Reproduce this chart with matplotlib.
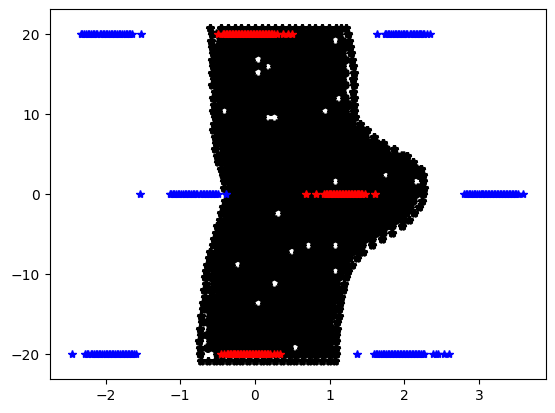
import matplotlib
matplotlib.use("Agg")
import matplotlib.pyplot as plt

# black cloud, one list of x values per row
black_y = [20.8, 20, 19.2, 18.4, 17.6, 16.8, 16, 15.2, 14.4, 13.6, 12.8, 12, 11.2, 10.4, 9.6, 8.8, 8, 7.2, 6.4, 5.6, 4.8, 4, 3.2, 2.4, 1.6, 0.8, 0,
           -0.8, -1.6, -2.4, -3.2, -4, -4.8, -5.6, -6.4, -7.2, -8, -8.8, -9.6, -10.4, -11.2, -12, -12.8, -13.6, -14.4, -15.2, -16, -16.8, -17.6, -18.4, -19.2, -20, -20.8]
black_x = [
    [-.60,-.46,-.36,-.27,-.18,-.09,0,.09,.18,.27,.36,.45,.54,.63,.72,.81,.90,.99,1.08,1.15,1.22],
    [-.58,-.50,-.41,-.32,-.23,-.14,-.05,.04,.13,.22,.31,.40,.49,.58,.67,.76,.85,.94,1.03,1.12,1.25],
    [-.59,-.45,-.36,-.27,-.18,-.09,0,.09,.18,.27,.36,.45,.54,.63,.72,.81,.90,.99,1.17,1.26],
    [-.57,-.50,-.41,-.32,-.23,-.14,-.05,.04,.13,.22,.31,.40,.49,.58,.67,.76,.85,.94,1.03,1.12,1.21,1.27],
    [-.56,-.45,-.36,-.27,-.18,-.09,0,.09,.18,.27,.36,.45,.54,.63,.72,.81,.90,.99,1.08,1.17,1.29],
    [-.58,-.50,-.41,-.32,-.23,-.14,-.05,.13,.22,.31,.40,.49,.58,.67,.76,.85,.94,1.03,1.12,1.21,1.30],
    [-.56,-.45,-.36,-.27,-.18,-.09,0,.09,.27,.36,.45,.54,.63,.72,.81,.90,.99,1.08,1.17,1.31],
    [-.57,-.50,-.41,-.32,-.23,-.14,-.05,.13,.22,.31,.40,.49,.58,.67,.76,.85,.94,1.03,1.12,1.21,1.32],
    [-.55,-.45,-.36,-.27,-.18,-.09,0,.09,.18,.27,.36,.45,.54,.63,.72,.81,.90,.99,1.08,1.17,1.31],
    [-.57,-.50,-.41,-.32,-.23,-.14,-.05,.04,.13,.22,.31,.40,.49,.58,.67,.76,.85,.94,1.03,1.12,1.21,1.33],
    [-.54,-.45,-.36,-.27,-.18,-.09,0,.09,.18,.27,.36,.45,.54,.63,.72,.81,.90,.99,1.08,1.17,1.31],
    [-.56,-.50,-.41,-.32,-.23,-.14,-.05,.04,.13,.22,.31,.40,.49,.58,.67,.76,.85,.94,1.03,1.21,1.33],
    [-.55,-.45,-.36,-.27,-.18,-.09,0,.09,.18,.27,.36,.45,.54,.63,.72,.81,.90,.99,1.08,1.17,1.26,1.32],
    [-.56,-.50,-.32,-.23,-.14,-.05,.04,.13,.22,.31,.40,.49,.58,.67,.76,.85,1.03,1.12,1.21,1.33],
    [-.54,-.45,-.36,-.27,-.18,-.09,0,.09,.36,.45,.54,.63,.72,.81,.90,.99,1.08,1.17,1.26,1.34],
    [-.55,-.50,-.41,-.32,-.23,-.14,-.05,.04,.13,.22,.31,.40,.49,.58,.67,.76,.85,.94,1.03,1.12,1.21,1.30,1.41],
    [-.56,-.45,-.36,-.27,-.18,-.09,0,.09,.18,.27,.36,.45,.54,.63,.72,.81,.90,.99,1.08,1.17,1.26,1.35,1.44,1.50],
    [-.54,-.50,-.41,-.32,-.23,-.14,-.05,.04,.13,.22,.31,.40,.49,.58,.67,.76,.85,.94,1.03,1.12,1.21,1.30,1.39,1.48,1.60],
    [-.52,-.45,-.36,-.27,-.18,-.09,0,.09,.18,.27,.36,.45,.54,.63,.72,.81,.90,.99,1.08,1.17,1.26,1.35,1.44,1.53,1.62,1.72],
    [-.53,-.41,-.32,-.23,-.14,-.05,.04,.13,.22,.31,.40,.49,.58,.67,.76,.85,.94,1.03,1.12,1.21,1.30,1.39,1.48,1.57,1.66,1.75,1.86],
    [-.51,-.45,-.36,-.27,-.18,-.09,0,.09,.18,.27,.36,.45,.54,.63,.72,.81,.90,.99,1.08,1.17,1.26,1.35,1.44,1.53,1.62,1.71,1.80,1.89,1.98,2.03],
    [-.49,-.41,-.32,-.23,-.14,-.05,.04,.13,.22,.31,.40,.49,.58,.67,.76,.85,.94,1.03,1.12,1.21,1.30,1.39,1.48,1.57,1.66,1.75,1.84,1.93,2.02,2.12],
    [-.46,-.36,-.27,-.18,-.09,0,.09,.18,.27,.36,.45,.54,.63,.72,.81,.90,.99,1.08,1.17,1.26,1.35,1.44,1.53,1.62,1.71,1.80,1.89,1.98,2.07,2.16,2.22],
    [-.43,-.41,-.32,-.23,-.14,-.05,.04,.13,.22,.31,.40,.49,.58,.67,.76,.85,.94,1.03,1.12,1.21,1.30,1.39,1.48,1.57,1.66,1.84,1.93,2.02,2.11,2.20,2.25],
    [-.42,-.36,-.27,-.18,-.09,0,.09,.18,.27,.36,.45,.54,.63,.72,.81,.90,.99,1.17,1.26,1.35,1.44,1.53,1.62,1.71,1.80,1.89,1.98,2.07,2.25],
    [-.41,-.32,-.23,-.14,-.05,.04,.13,.22,.31,.40,.49,.58,.67,.76,.85,.94,1.03,1.12,1.21,1.30,1.39,1.48,1.57,1.66,1.75,1.84,1.93,2.02,2.11,2.20,2.26],
    [-.38,-.27,-.18,-.09,0,.09,.18,.27,.36,.45,.54,.63,.72,.81,.90,.99,1.08,1.17,1.26,1.35,1.44,1.53,1.62,1.71,1.80,1.89,1.98,2.07,2.16,2.25],
    [-.40,-.32,-.23,-.14,-.05,.04,.13,.22,.31,.40,.49,.58,.67,.76,.85,.94,1.03,1.12,1.21,1.30,1.39,1.48,1.57,1.66,1.75,1.84,1.93,2.02,2.11,2.24],
    [-.43,-.36,-.27,-.18,-.09,0,.09,.18,.27,.36,.45,.54,.63,.72,.81,.90,.99,1.08,1.17,1.26,1.35,1.44,1.53,1.62,1.71,1.80,1.89,1.98,2.07,2.19],
    [-.46,-.41,-.32,-.23,-.14,-.05,.04,.13,.22,.40,.49,.58,.67,.76,.85,.94,1.03,1.12,1.21,1.30,1.39,1.48,1.57,1.66,1.75,1.84,1.93,2.02,2.13],
    [-.47,-.36,-.27,-.18,-.09,0,.09,.18,.27,.36,.45,.54,.63,.72,.81,.90,.99,1.08,1.17,1.26,1.35,1.44,1.53,1.62,1.71,1.80,1.89,1.98,2.06],
    [-.51,-.41,-.32,-.23,-.14,-.05,.04,.13,.22,.31,.40,.49,.58,.67,.76,.85,.94,1.03,1.12,1.21,1.30,1.39,1.48,1.57,1.66,1.75,1.84,1.97],
    [-.52,-.45,-.36,-.27,-.18,-.09,0,.09,.18,.27,.36,.45,.54,.63,.72,.81,.90,.99,1.08,1.17,1.26,1.35,1.44,1.53,1.62,1.71,1.84],
    [-.55,-.50,-.41,-.32,-.23,-.14,-.05,.04,.13,.22,.31,.40,.49,.58,.67,.76,.85,.94,1.03,1.12,1.21,1.30,1.39,1.48,1.57,1.70],
    [-.56,-.45,-.36,-.27,-.18,-.09,0,.09,.18,.27,.36,.45,.54,.63,.81,.90,.99,1.17,1.26,1.35,1.44,1.57],
    [-.60,-.50,-.41,-.32,-.23,-.14,-.05,.04,.13,.22,.31,.40,.58,.67,.76,.85,.94,1.03,1.12,1.21,1.30,1.39,1.45],
    [-.62,-.54,-.45,-.36,-.27,-.18,-.09,0,.09,.18,.27,.36,.45,.54,.63,.72,.81,.90,.99,1.08,1.17,1.26,1.37],
    [-.64,-.59,-.50,-.41,-.32,-.14,-.05,.04,.13,.22,.31,.40,.49,.58,.67,.76,.85,.94,1.03,1.12,1.21,1.30],
    [-.65,-.54,-.45,-.36,-.27,-.18,-.09,0,.09,.18,.27,.36,.45,.54,.63,.72,.81,.90,.99,1.17,1.25],
    [-.67,-.59,-.50,-.41,-.32,-.23,-.14,-.05,.04,.13,.22,.31,.40,.49,.58,.67,.76,.85,.94,1.03,1.12,1.22],
    [-.66,-.54,-.45,-.36,-.27,-.18,-.09,0,.09,.18,.36,.45,.54,.63,.72,.81,.90,.99,1.08,1.19],
    [-.68,-.59,-.50,-.41,-.32,-.23,-.14,-.05,.04,.13,.22,.31,.40,.49,.58,.67,.76,.85,.94,1.03,1.12,1.18],
    [-.67,-.56,-.45,-.36,-.27,-.18,-.09,0,.09,.18,.27,.36,.45,.54,.63,.72,.81,.90,.99,1.08,1.15],
    [-.70,-.59,-.50,-.41,-.32,-.23,-.14,-.05,.13,.22,.31,.40,.49,.58,.67,.76,.85,.94,1.03,1.14],
    [-.69,-.63,-.54,-.45,-.36,-.27,-.18,-.09,0,.09,.18,.27,.36,.45,.54,.63,.72,.81,.90,.99,1.08,1.12],
    [-.72,-.59,-.50,-.41,-.32,-.23,-.14,-.05,.04,.13,.22,.31,.40,.49,.58,.67,.76,.85,.94,1.03,1.12],
    [-.71,-.63,-.54,-.45,-.36,-.27,-.18,-.09,0,.09,.18,.27,.36,.45,.54,.63,.72,.81,.90,.99,1.10],
    [-.73,-.59,-.50,-.41,-.32,-.23,-.14,-.05,.04,.13,.22,.31,.40,.49,.58,.67,.76,.85,.94,1.03,1.10],
    [-.72,-.63,-.54,-.45,-.36,-.27,-.18,-.09,0,.09,.18,.27,.36,.45,.54,.63,.72,.81,.90,.99,1.09],
    [-.75,-.59,-.50,-.41,-.32,-.23,-.14,-.05,.04,.13,.22,.31,.40,.49,.58,.67,.76,.85,.94,1.03,1.09],
    [-.73,-.63,-.54,-.45,-.36,-.27,-.18,-.09,0,.09,.18,.27,.36,.45,.63,.72,.81,.90,.99,1.08],
    [-.74,-.50,-.41,-.32,-.23,-.14,-.05,.04,.13,.22,.31,.40,.49,.58,.67,.76,.85,.94,1.03,1.08],
    [-.72,-.63,-.54,-.45,-.36,-.27,-.18,-.09,0,.09,.18,.27,.36,.45,.54,.63,.72,.81,.90,.99,1.07],
]

# blue stars
blue_top_x = [-2.33,-2.31,-2.29,-2.26,-2.24,-2.22,-2.19,-2.17,-2.15,-2.13,-2.11,-2.08,-2.06,-2.04,-2.02,-2.0,-1.98,-1.96,-1.93,-1.91,-1.89,-1.87,
              -1.85,-1.82,-1.8,-1.78,-1.75,-1.73,-1.71,-1.69,-1.67,-1.64,-1.53,
              1.64,1.74,1.76,1.78,1.8,1.82,1.85,1.87,1.89,1.91,1.93,1.96,1.98,2.0,2.02,2.04,2.07,2.09,2.11,2.13,2.15,2.17,2.19,2.21,2.23,2.25,2.27,2.30,2.35]
blue_mid_x = [-1.54,-1.14,-1.12,-1.10,-1.08,-1.05,-1.03,-1.01,-0.99,-0.96,-0.94,-0.92,-0.9,-0.88,-0.85,-0.83,-0.81,-0.79,-0.77,-0.74,-0.72,-0.70,
              -0.68,-0.66,-0.64,-0.62,-0.6,-0.58,-0.56,-0.54,-0.52,-0.50,-0.39,
              2.80,2.82,2.84,2.86,2.88,2.91,2.93,2.95,2.97,3.0,3.02,3.04,3.06,3.08,3.1,3.12,3.14,3.16,3.18,3.2,3.22,3.24,3.26,3.28,3.3,3.32,3.34,3.36,3.38,
              3.4,3.42,3.44,3.46,3.48,3.5,3.52,3.59]
blue_bot_x = [-2.45,-2.27,-2.25,-2.23,-2.2,-2.18,-2.16,-2.13,-2.11,-2.09,-2.07,-2.05,-2.02,-2.0,-1.98,-1.96,-1.94,-1.92,-1.9,-1.87,-1.85,-1.83,
              -1.8,-1.78,-1.76,-1.74,-1.72,-1.7,-1.68,-1.66,-1.64,-1.62,-1.59,
              1.37,1.60,1.62,1.64,1.66,1.69,1.71,1.73,1.75,1.78,1.8,1.82,1.84,1.86,1.88,1.9,1.92,1.94,1.96,1.98,2.0,2.02,2.04,2.06,2.08,2.1,2.12,2.14,2.16,
              2.18,2.2,2.22,2.25,2.27,2.38,2.42,2.45,2.53,2.60]

# red stars
red_top_x = [-0.50,-0.43,-0.41,-0.39,-0.37,-0.35,-0.33,-0.31,-0.29,-0.27,-0.25,-0.23,-0.21,-0.19,-0.17,-0.15,-0.13,-0.11,-0.09,-0.07,-0.05,-0.03,
             -0.01,0.01,0.03,0.05,0.07,0.09,0.11,0.13,0.15,0.17,0.19,0.21,0.23,0.25,0.3,0.37,0.44,0.49]
red_mid_x = [0.69,0.82,0.93,0.95,0.97,0.99,1.0,1.02,1.04,1.06,1.08,1.1,1.12,1.14,1.16,1.18,1.2,1.22,1.24,1.26,1.28,1.3,1.32,1.34,1.36,1.38,1.4,
             1.42,1.44,1.47,1.61]
red_bot_x = [-0.46,-0.42,-0.38,-0.36,-0.34,-0.32,-0.3,-0.28,-0.26,-0.24,-0.22,-0.2,-0.18,-0.16,-0.14,-0.12,-0.1,-0.08,-0.06,-0.04,-0.02,0,0.02,
             0.04,0.06,0.08,0.1,0.12,0.14,0.16,0.18,0.2,0.25,0.29,0.33]

fig = plt.figure(figsize=(5.55, 4.13), dpi=100)
ax = fig.add_axes([49.5 / 555, 1 - 379 / 413, 496 / 555, 369.6 / 413])

# inner stars get a heavier edge so the cloud closes up, outer ones stay spiky
last_row = len(black_y) - 1
for i, (row_y, row_x) in enumerate(zip(black_y, black_x)):
    if i == 0 or i == last_row:
        ax.plot(row_x, [row_y] * len(row_x), "k*", markeredgewidth=2)
    else:
        ax.plot(row_x[1:-1], [row_y] * (len(row_x) - 2), "k*", markeredgewidth=3.2)
        ax.plot([row_x[0], row_x[-1]], [row_y, row_y], "k*", markeredgewidth=2.2)

ax.plot(blue_top_x, [20] * len(blue_top_x), "b*")
ax.plot(blue_mid_x, [0] * len(blue_mid_x), "b*")
ax.plot(blue_bot_x, [-20] * len(blue_bot_x), "b*")
ax.plot(red_top_x, [20] * len(red_top_x), "r*")
ax.plot(red_mid_x, [0] * len(red_mid_x), "r*")
ax.plot(red_bot_x, [-20] * len(red_bot_x), "r*")

ax.set_xlim(-2.75, 3.89)
ax.set_ylim(-23.1, 23.1)
ax.set_xticks([-2, -1, 0, 1, 2, 3])
ax.set_yticks([-20, -10, 0, 10, 20])

fig.savefig("out.png", dpi=100)
